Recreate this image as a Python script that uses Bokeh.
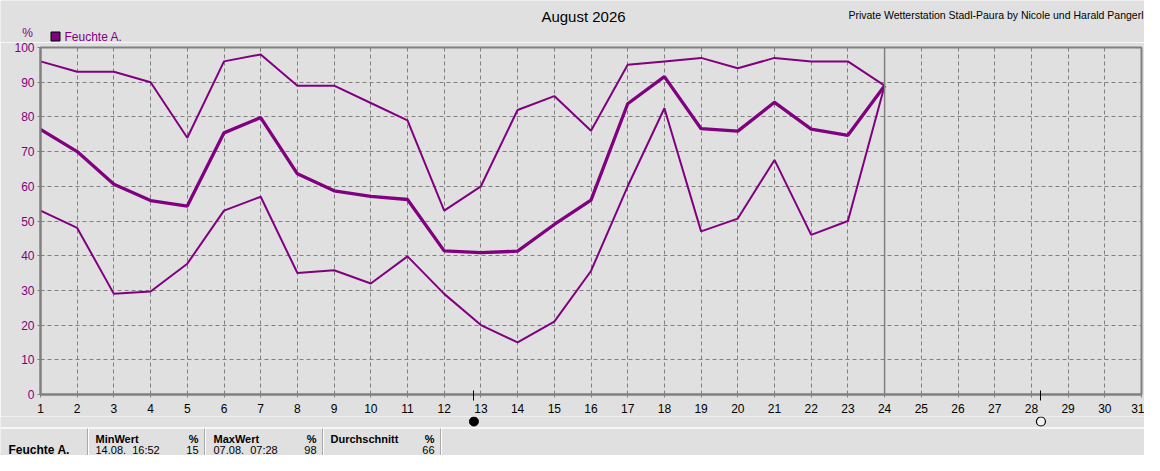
from bokeh.plotting import figure
from bokeh.models import Range1d, FixedTicker, Span
from bokeh.layouts import column
from bokeh.core.properties import value
from bokeh.embed import file_html
from bokeh.resources import INLINE

# ---------------- data ----------------
days = list(range(1, 25))
max_vals = [96, 93, 93, 90, 74, 96, 98, 89, 89, 84, 79, 53, 60, 82, 86, 76, 95, 96, 97, 94, 97, 96, 96, 89]
avg_vals = [76.4, 70, 60.6, 55.9, 54.3, 75.4, 79.8, 63.6, 58.7, 57.1, 56.2, 41.4, 40.9, 41.3, 49, 56, 83.8, 91.6, 76.6, 75.9, 84.2, 76.5, 74.7, 89]
min_vals = [53, 48, 29, 29.7, 37.7, 53, 57, 35, 35.8, 32, 39.8, 29, 20, 15, 21, 35.6, 60, 82.5, 47, 50.7, 67.6, 46, 50, 89]
x_ticks = list(range(1, 32))
y_ticks = list(range(0, 101, 10))
current_day = 24
new_moon_day = 12.81
full_moon_day = 28.26

title_text = "August 2026"
station_text = "Private Wetterstation Stadl-Paura by Nicole und Harald Pangerl"
series_name = "Feuchte A."
unit = "%"

tbl_headers = ["MinWert", "MaxWert", "Durchschnitt"]
tbl_times = ["14.08.\u00a0\u00a016:52", "07.08.\u00a0\u00a007:28", ""]
tbl_values = ["15", "98", "66"]

# ---------------- style / layout ----------------
BG = "#E0E0E0"
PURPLE = "#800080"
GRAY = "#808080"
FONT = "Liberation Sans"
W = 1144
HEAD_H = 42
CHART_H = 374
FOOT_H = 39
FL, FR = 40, 3          # frame borders left / right
X0, X1 = 1, 31


def no_align(fig):
    if "frame_align" in fig.properties():
        fig.frame_align = False


def bare(width, height, xr, yr):
    f = figure(width=width, height=height, x_range=xr, y_range=yr,
               output_backend="svg", toolbar_location=None, title=None,
               x_axis_type=None, y_axis_type=None, min_border=0,
               background_fill_color=BG, border_fill_color=BG)
    f.outline_line_color = None
    f.grid.visible = False
    no_align(f)
    return f


# ---------------- header ----------------
h = bare(W, HEAD_H, Range1d(0, W), Range1d(HEAD_H, 0))
h.text(x=[583], y=[16], text=[title_text], text_font=value(FONT), text_font_size="15px",
       text_align="center", text_baseline="middle", text_color="black")
h.text(x=[1143], y=[14], text=[station_text], text_font=value(FONT), text_font_size="10.5px",
       text_align="right", text_baseline="middle", text_color="black")
h.text(x=[27], y=[32], text=[unit], text_font=value(FONT), text_font_size="12px",
       text_align="center", text_baseline="middle", text_color=PURPLE)
h.quad(left=[50.5], right=[59.5], top=[31.5], bottom=[40.5], fill_color=PURPLE,
       line_color="black", line_width=1)
h.text(x=[64], y=[36], text=[series_name], text_font=value(FONT), text_font_size="12px",
       text_align="left", text_baseline="middle", text_color=PURPLE)

# ---------------- chart ----------------
p = figure(width=W, height=CHART_H, x_range=Range1d(X0, X1), y_range=Range1d(0, 100),
           output_backend="svg", toolbar_location=None, title=None,
           min_border_left=FL, min_border_right=FR, min_border_top=5, min_border_bottom=22,
           background_fill_color=BG, border_fill_color=BG)
no_align(p)
p.outline_line_color = GRAY
p.outline_line_width = 2

for ax in (p.xaxis[0], p.yaxis[0]):
    ax.axis_line_color = GRAY
    ax.axis_line_width = 2
    ax.major_tick_line_color = GRAY
    ax.major_tick_out = 3
    ax.major_tick_in = 0
    ax.minor_tick_line_color = None
    ax.major_label_text_font = FONT
    ax.major_label_text_font_size = "12px"
    ax.major_label_standoff = 3

p.xaxis.ticker = FixedTicker(ticks=x_ticks, minor_ticks=[new_moon_day, full_moon_day])
p.xaxis.minor_tick_line_color = "black"
p.xaxis.minor_tick_in = 4
p.xaxis.minor_tick_out = 6
p.xaxis.minor_tick_line_width = 1
p.xaxis.major_label_text_color = "black"
p.yaxis.ticker = FixedTicker(ticks=y_ticks)
p.yaxis.major_label_text_color = PURPLE

p.xgrid.ticker = FixedTicker(ticks=x_ticks[1:-1])
p.ygrid.ticker = FixedTicker(ticks=y_ticks[1:-1])
for g in (p.xgrid[0], p.ygrid[0]):
    g.grid_line_color = GRAY
    g.grid_line_dash = "4 3"
    g.grid_line_width = 1

p.add_layout(Span(location=current_day, dimension="height", line_color=GRAY, line_width=1.5))

p.line(days, max_vals, line_color=PURPLE, line_width=2)
p.line(days, min_vals, line_color=PURPLE, line_width=2)
p.line(days, avg_vals, line_color=PURPLE, line_width=3.3)

# ---------------- footer (moon phases + table) ----------------
k = (W - FL - FR) / (X1 - X0)
f = bare(W, FOOT_H, Range1d(X0 - FL / k, X1 + FR / k), Range1d(455, 416))
f.extra_x_ranges = {"px": Range1d(0, W)}

f.scatter(x=[new_moon_day], y=[421], size=9, marker="circle", fill_color="black",
          line_color="black", line_width=1)
f.scatter(x=[full_moon_day], y=[421], size=9, marker="circle", fill_color="#F2F2F2",
          line_color="black", line_width=1.2)

f.segment(x0=[0], y0=[427.5], x1=[W], y1=[427.5], line_color="white", line_width=1.5,
          x_range_name="px")
col_x = [88, 205, 323, 441]
f.segment(x0=[c - 1 for c in col_x], y0=[428] * 4, x1=[c - 1 for c in col_x], y1=[456] * 4,
          line_color="#A8A8A8", line_width=1, x_range_name="px")
f.segment(x0=col_x, y0=[428] * 4, x1=col_x, y1=[456] * 4, line_color="white", line_width=1,
          x_range_name="px")

f.text(x=[8], y=[449], text=[series_name], text_font=value(FONT), text_font_style="bold",
       text_font_size="12px", text_baseline="middle", text_color="black", x_range_name="px")
hx = [95, 213, 330]
rx = [198, 316, 434]
f.text(x=hx, y=[438] * 3, text=tbl_headers, text_font=value(FONT), text_font_style="bold",
       text_font_size="11px", text_baseline="middle", text_color="black", x_range_name="px")
f.text(x=rx, y=[438] * 3, text=[unit] * 3, text_font=value(FONT), text_font_style="bold",
       text_font_size="11px", text_baseline="middle", text_align="right", text_color="black",
       x_range_name="px")
f.text(x=hx, y=[449] * 3, text=tbl_times, text_font=value(FONT),
       text_font_size="11px", text_baseline="middle", text_color="black", x_range_name="px")
f.text(x=rx, y=[449] * 3, text=tbl_values, text_font=value(FONT),
       text_font_size="11px", text_baseline="middle", text_align="right", text_color="black",
       x_range_name="px")

layout = column(h, p, f, spacing=0)
open("out.html", "w").write(file_html(layout, INLINE))
